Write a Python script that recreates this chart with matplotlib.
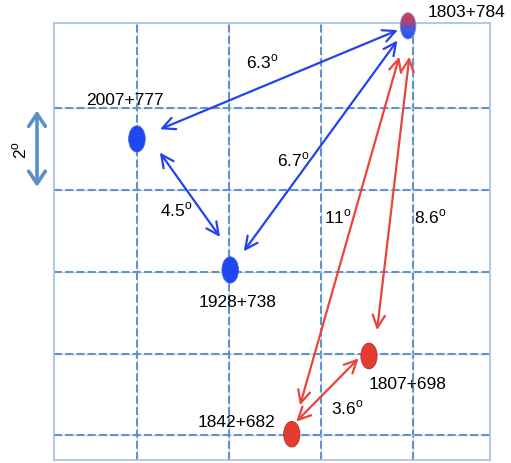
import numpy as np
import matplotlib
matplotlib.use('Agg')
import matplotlib.pyplot as plt
from matplotlib.patches import Ellipse, FancyArrowPatch
from matplotlib.colors import LinearSegmentedColormap
from matplotlib.transforms import ScaledTranslation

plt.rcParams['font.family'] = ['Liberation Sans', 'DejaVu Sans']
plt.rcParams['mathtext.fontset'] = 'custom'
plt.rcParams['mathtext.rm'] = 'Liberation Sans'

# Sources: offsets on the sky in degrees (grid lines every 2 deg)
sources = ['1803+784', '2007+777', '1928+738', '1807+698', '1842+682']
src_x = [7.89, 1.99, 4.02, 7.04, 5.36]
src_y = [10.0, 7.24, 4.04, 1.94, 0.03]
src_group = ['both', 'blue', 'blue', 'red', 'red']

# Pairwise separations (degrees)
pair_from = ['2007+777', '2007+777', '1928+738', '1803+784', '1803+784', '1807+698']
pair_to = ['1803+784', '1928+738', '1803+784', '1842+682', '1807+698', '1842+682']
pair_sep = [6.3, 4.5, 6.7, 11, 8.6, 3.6]
pair_group = ['blue', 'blue', 'blue', 'red', 'red', 'red']

# label layout
name_pos = {'1803+784': (9.17, 10.34), '2007+777': (1.73, 8.21),
            '1928+738': (4.17, 3.26), '1807+698': (7.89, 1.28),
            '1842+682': (4.15, 0.33)}
sep_pos = [(4.71, 9.14), (2.84, 5.53), (5.39, 6.75),
           (6.37, 5.36), (8.37, 5.36), (6.56, 0.69)]
# arrow trimming (px at each end) and sideways nudge (px, image down = +)
arrow_shrink = [(25, 11), (24, 33), (23, 18), (32, 30), (31, 26), (9, 12)]
arrow_nudge = [(0, 0), (9, -6), (0, 0), (0, 0), (5, 0), (-4, -4)]

BLUE = '#1f48f5'
RED = '#e63b30'
ARROW = {'blue': '#2343f0', 'red': '#e8453b'}
GRID = '#5f93c9'

fig = plt.figure(figsize=(5.11, 4.64), dpi=100)
ax = fig.add_axes([54 / 511, 3 / 464, 436 / 511, 437 / 464])
ax.set_xticks([])
ax.set_yticks([])
for s in ax.spines.values():
    s.set_color('#a3c0e3')
    s.set_linewidth(1.2)

for gx in [2, 4, 6, 8]:
    ax.axvline(gx, color='#bcd2ea', lw=0.8, zorder=1)
    ax.axvline(gx, color=GRID, lw=1.5, ls=(0, (3.8, 1.6)), zorder=1)
for gy in [0, 2, 4, 6, 8]:
    ax.axhline(gy, color='#bcd2ea', lw=0.8, zorder=1)
    ax.axhline(gy, color=GRID, lw=1.5, ls=(0, (3.8, 1.6)), zorder=1)

pos = {n: (x, y) for n, x, y in zip(sources, src_x, src_y)}
px = 72 / 100  # points per pixel

for a, b, sep, grp, (sa, sb), (nx, ny), (tx, ty) in zip(
        pair_from, pair_to, pair_sep, pair_group, arrow_shrink, arrow_nudge, sep_pos):
    tr = ax.transData + ScaledTranslation(nx * px / 72, -ny * px / 72, fig.dpi_scale_trans)
    arr = FancyArrowPatch(pos[a], pos[b], transform=tr,
                          arrowstyle='<->,head_length=0.45,head_width=0.22',
                          mutation_scale=20, color=ARROW[grp], lw=1.6,
                          shrinkA=sa * px, shrinkB=sb * px, zorder=3)
    ax.add_patch(arr)
    ax.text(tx, ty, f'{sep:g}$^{{\\rm o}}$', fontsize=12.5, ha='center', va='center', zorder=4)

ew, eh = 0.36, 0.64
grad = LinearSegmentedColormap.from_list('rb', ['#e23a44', '#b3406e', '#3c5cee', '#2456f5'])
for n, x, y, grp in zip(sources, src_x, src_y, src_group):
    if grp == 'both':
        # red/blue blend for the source in both groups
        e = Ellipse((x, y), ew * 0.95, eh * 1.0, facecolor='none', edgecolor='#7090d8',
                    lw=0.6, zorder=6, clip_on=False)
        ax.add_patch(e)
        img = ax.imshow(np.linspace(0, 1, 64).reshape(-1, 1), cmap=grad, aspect='auto',
                        extent=(x - ew / 2, x + ew / 2, y - eh / 2, y + eh / 2),
                        origin='upper', zorder=5)
        img.set_clip_box(fig.bbox)
        img.set_clip_path(e)
    elif grp == 'blue':
        ax.add_patch(Ellipse((x, y), ew, eh, facecolor=BLUE, edgecolor='#3a5de0', lw=0.6, zorder=5))
    else:
        ax.add_patch(Ellipse((x, y), ew * 0.97, eh * 0.97, facecolor=RED, edgecolor='#b83a35', lw=0.8, zorder=5))
    lx, ly = name_pos[n]
    ax.text(lx, ly, n, fontsize=12.5, ha='center', va='center', zorder=7, clip_on=False)

ax.set_xlim(0.185, 9.674)
ax.set_ylim(-0.6, 10.07)

# scale bar: one grid cell = 2 deg
ax.add_patch(FancyArrowPatch((-0.185, 8), (-0.185, 6), arrowstyle='<->,head_length=0.45,head_width=0.3',
                             mutation_scale=20, color='#5b8fc8', lw=2.6, clip_on=False, zorder=3))
ax.text(-0.555, 7, '2$^{\\rm o}$', fontsize=12.5, rotation=90, ha='center', va='center', clip_on=False)

fig.savefig('out.png', dpi=100)
